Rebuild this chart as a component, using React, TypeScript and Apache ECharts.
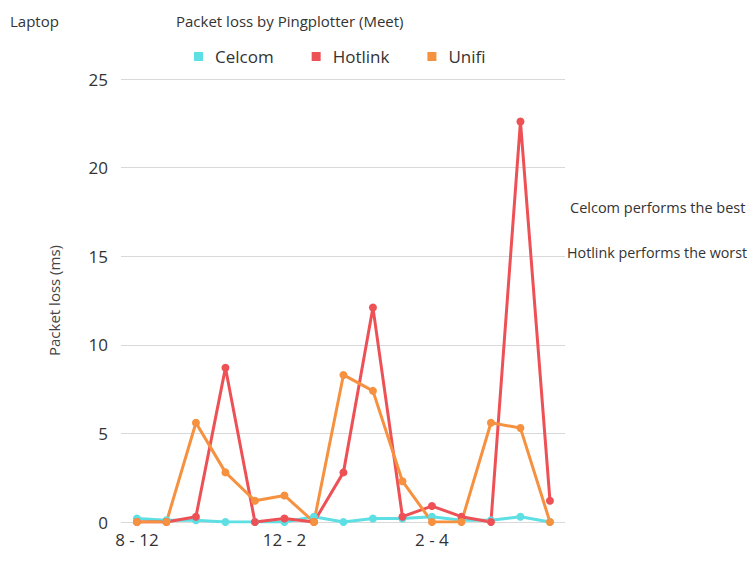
import React, { useEffect, useRef } from "react";
import * as echarts from "echarts";

const categories = ["8 - 12", "", "", "", "", "12 - 2", "", "", "", "", "2 - 4", "", "", "", ""];
const labelIndices = [0, 5, 10];
const yTicks = [0, 5, 10, 15, 20, 25];
const celcom = [0.2, 0.1, 0.1, 0, 0, 0, 0.3, 0, 0.2, 0.2, 0.3, 0.1, 0.1, 0.3, 0];
const hotlink = [0, 0, 0.3, 8.7, 0, 0.2, 0, 2.8, 12.1, 0.3, 0.9, 0.3, 0, 22.6, 1.2];
const unifi = [0, 0, 5.6, 2.8, 1.2, 1.5, 0, 8.3, 7.4, 2.3, 0, 0, 5.6, 5.3, 0];
const seriesNames = ["Celcom", "Hotlink", "Unifi"];
const colors = ["#5ddfe4", "#ee5155", "#f5913f"];

export default function App() {
  const ref = useRef<HTMLDivElement>(null);
  useEffect(() => {
    document.body.style.margin = "0";
    const chart = echarts.init(ref.current!, null, { renderer: "svg" });
    const toPairs = (arr: number[]) => arr.map((v, i) => [i, v]);
    const mk = (name: string, data: number[], color: string) => ({
      name,
      type: "line",
      data: toPairs(data),
      symbol: "circle",
      symbolSize: 8,
      lineStyle: { width: 3, color },
      itemStyle: { color },
      z: 3,
    });
    chart.setOption({
      animation: false,
      color: colors,
      textStyle: { fontFamily: "Open Sans" },
      legend: {
        top: 43,
        left: 189,
        itemWidth: 9,
        itemHeight: 9,
        itemGap: 38,
        icon: "rect",
        data: seriesNames,
        textStyle: { fontSize: 17, color: "#333", fontFamily: "Open Sans", padding: [0, 0, 0, 7] },
      },
      grid: { left: 121, right: 187, top: 79, bottom: 58 },
      xAxis: {
        type: "value",
        min: -0.54,
        max: 14.51,
        splitLine: { show: false },
        axisLine: { show: false },
        axisTick: { show: false },
        axisLabel: {
          customValues: labelIndices,
          formatter: (v: number) => categories[Math.round(v)] ?? "",
          fontSize: 17,
          color: "#333",
          margin: 9,
          fontFamily: "Open Sans",
        },
      },
      yAxis: {
        type: "value",
        min: 0,
        max: 25,
        interval: 5,
        name: "Packet loss (ms)",
        nameLocation: "middle",
        nameGap: 60,
        nameTextStyle: { fontSize: 15, color: "#444", fontFamily: "Open Sans" },
        axisLine: { show: false },
        axisTick: { show: false },
        axisLabel: {
          fontSize: 17,
          color: "#333",
          margin: 13,
          fontFamily: "Open Sans",
          customValues: yTicks,
        },
        splitLine: { lineStyle: { color: "#d9d9d9", width: 1 } },
      },
      graphic: [
        { type: "text", left: 10, top: 13, style: { text: "Laptop", fontSize: 15, fill: "#333", fontFamily: "Open Sans" } },
        { type: "text", left: 176, top: 13, style: { text: "Packet loss by Pingplotter (Meet)", fontSize: 15, fill: "#333", fontFamily: "Open Sans" } },
        { type: "text", left: 570, top: 200, style: { text: "Celcom performs the best", fontSize: 14.5, fill: "#333", fontFamily: "Open Sans" } },
        { type: "text", left: 567, top: 245, style: { text: "Hotlink performs the worst", fontSize: 14.3, fill: "#333", fontFamily: "Open Sans" } },
      ],
      series: [mk("Celcom", celcom, colors[0]), mk("Hotlink", hotlink, colors[1]), mk("Unifi", unifi, colors[2])],
    });
    return () => chart.dispose();
  }, []);
  return <div ref={ref} style={{ width: 752, height: 580 }} />;
}
